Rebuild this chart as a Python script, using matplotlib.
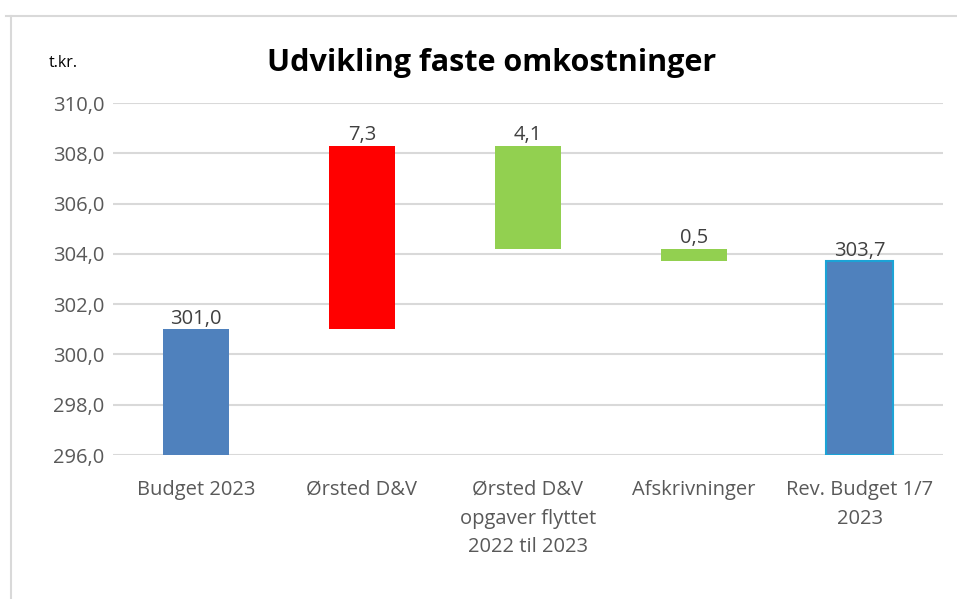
import matplotlib
matplotlib.use("Agg")
import matplotlib.pyplot as plt
import numpy as np

categories = ["Budget 2023", "Ørsted D&V", "Ørsted D&V\nopgaver flyttet\n2022 til 2023",
              "Afskrivninger", "Rev. Budget 1/7\n2023"]
bottoms = [296.0, 301.0, 304.2, 303.7, 296.0]
tops = [301.0, 308.3, 308.3, 304.2, 303.7]
labels = ["301,0", "7,3", "4,1", "0,5", "303,7"]
colors = ["#4F81BD", "#FF0000", "#92D050", "#92D050", "#4F81BD"]
edgecolors = ["none", "none", "none", "none", "#1CA3D6"]
yticks = [296, 298, 300, 302, 304, 306, 308, 310]

plt.rcParams['font.family'] = ['Open Sans', 'DejaVu Sans']

fig = plt.figure(figsize=(9.57, 5.99), dpi=100)
ax = fig.add_axes([0.118, 0.2404, 0.867, 0.5876])

x = np.arange(len(categories))
heights = [t - b for t, b in zip(tops, bottoms)]
bars = ax.bar(x, heights, bottom=bottoms, width=0.4, color=colors, zorder=3)
for b, ec in zip(bars, edgecolors):
    if ec != "none":
        b.set_edgecolor(ec)
        b.set_linewidth(1.5)

for xi, t, lab in zip(x, tops, labels):
    ax.text(xi, t + 0.02, lab, ha="center", va="bottom", fontsize=14.5, color="#404040", zorder=4)

ax.set_ylim(296, 310)
ax.set_xlim(-0.5, len(categories) - 0.5)
ax.set_yticks(yticks)
ax.set_yticklabels([f"{v:.1f}".replace(".", ",") for v in yticks], fontsize=14.5, color="#595959")
ax.set_xticks(x)
ax.set_xticklabels(categories, fontsize=14.5, color="#595959", linespacing=1.58)
ax.tick_params(axis="both", length=0)
ax.tick_params(axis="y", pad=6)
ax.tick_params(axis="x", pad=18)
ax.grid(axis="y", color="#D9D9D9", linewidth=1.5, zorder=0)
for s in ax.spines.values():
    s.set_visible(False)

fig.text(0.514, 0.894, "Udvikling faste omkostninger", ha="center", va="center",
         fontsize=22, fontweight="bold", color="black")
fig.text(0.066, 0.894, "t.kr.", ha="center", va="center", fontsize=11.5, color="black")

# frame
fig.add_artist(plt.Line2D([0.006, 1.0], [0.973, 0.973], transform=fig.transFigure, color="#D9D9D9", linewidth=1.5))
fig.add_artist(plt.Line2D([0.011, 0.011], [0.0, 0.973], transform=fig.transFigure, color="#D9D9D9", linewidth=1.5))

fig.savefig("out.png", dpi=100)
